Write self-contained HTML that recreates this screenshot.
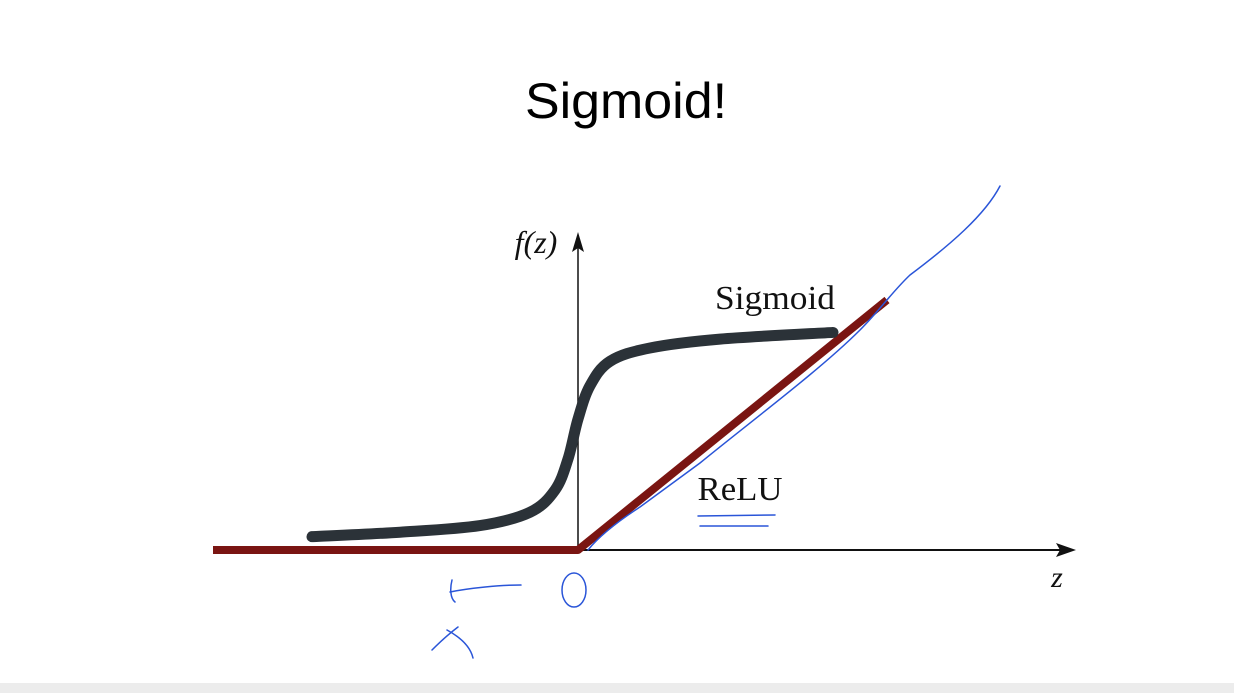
<!DOCTYPE html>
<html><head><meta charset="utf-8"><style>
html,body{margin:0;padding:0;background:#fff;width:1234px;height:693px;overflow:hidden}
svg{display:block}
</style></head><body>
<svg id="chart" width="1234" height="693" xmlns="http://www.w3.org/2000/svg">
<rect x="0" y="0" width="1234" height="693" fill="#fff"/>
<rect x="0" y="683" width="1234" height="10" fill="#ececec"/>
<text x="626" y="118" text-anchor="middle" font-family="Liberation Sans, sans-serif" font-size="50" fill="#000" textLength="202" lengthAdjust="spacingAndGlyphs">Sigmoid!</text>
<g id="axes">
<line x1="213" y1="550" x2="1068" y2="550" stroke="#111" stroke-width="2"/>
<polygon points="1076,550 1056,543 1060,550 1056,557" fill="#111"/>
<line x1="578" y1="550" x2="578" y2="240" stroke="#111" stroke-width="1.5"/>
<polygon points="578,232 572,252 578,248 584,252" fill="#111"/>
<text x="536" y="253" text-anchor="middle" font-family="Liberation Serif, serif" font-style="italic" font-size="32" fill="#111">f(z)</text>
<text x="1057" y="587" text-anchor="middle" font-family="Liberation Serif, serif" font-style="italic" font-size="30" fill="#111">z</text>
</g>
<g id="series"></g>
<text x="775" y="309" text-anchor="middle" font-family="Liberation Serif, serif" font-size="34" fill="#111" textLength="120" lengthAdjust="spacingAndGlyphs">Sigmoid</text>
<text x="740" y="500" text-anchor="middle" font-family="Liberation Serif, serif" font-size="34" fill="#111" textLength="85" lengthAdjust="spacingAndGlyphs">ReLU</text>
<g fill="none" stroke="#2a55d8" stroke-width="1.5" stroke-linecap="round">
<path d="M588,550 C600,535 620,520 640,507 L700,463 C750,422 820,370 860,330 C880,310 892,292 910,275 C950,245 985,215 1000,186"/>
<path d="M698,516 L775,515 M700,526 L768,526"/>
<ellipse cx="574" cy="590" rx="12" ry="17"/>
<path d="M521,585 C500,585 470,588 450,592 M452,580 C450,588 450,598 455,602"/>
<path d="M432,650 C440,642 450,633 458,627 M447,630 C458,636 470,645 473,658"/>
</g>
</svg>
<script>
const sigmoidZ=[-5.32,-3.56,-1.96,-0.96,-0.46,-0.2,0,0.24,0.64,1.44,2.84,5.1];
const sigmoidF=[0.06,0.08,0.11,0.17,0.27,0.41,0.59,0.74,0.85,0.91,0.95,0.98];
const reluZ=[-7.3,0,6.18];
const reluF=[0,0,1.126];
const X0=578,XS=50,Y0=550,YS=222;
function sx(z){return X0+z*XS;}
function sy(f){return Y0-f*YS;}
function smoothPath(zs,fs){
  const p=zs.map((z,i)=>[sx(z),sy(fs[i])]);
  let d='M'+p[0][0]+','+p[0][1];
  for(let i=0;i<p.length-1;i++){
    const p0=p[i-1]||p[i],p1=p[i],p2=p[i+1],p3=p[i+2]||p2;
    const c1=[p1[0]+(p2[0]-p0[0])/6,p1[1]+(p2[1]-p0[1])/6];
    const c2=[p2[0]-(p3[0]-p1[0])/6,p2[1]-(p3[1]-p1[1])/6];
    d+=' C'+c1+' '+c2+' '+p2;
  }
  return d;
}
const NS='http://www.w3.org/2000/svg';
const g=document.getElementById('series');
const relu=document.createElementNS(NS,'path');
relu.setAttribute('d',reluZ.map((z,i)=>(i?'L':'M')+sx(z)+','+sy(reluF[i])).join(' '));
relu.setAttribute('fill','none');relu.setAttribute('stroke','#7a1512');relu.setAttribute('stroke-width','8');relu.setAttribute('stroke-linejoin','round');


g.appendChild(relu);
const sig=document.createElementNS(NS,'path');
sig.setAttribute('d',smoothPath(sigmoidZ,sigmoidF));
sig.setAttribute('fill','none');sig.setAttribute('stroke','#2b3238');sig.setAttribute('stroke-width','11');sig.setAttribute('stroke-linecap','round');


g.appendChild(sig);
</script>
</body></html>
